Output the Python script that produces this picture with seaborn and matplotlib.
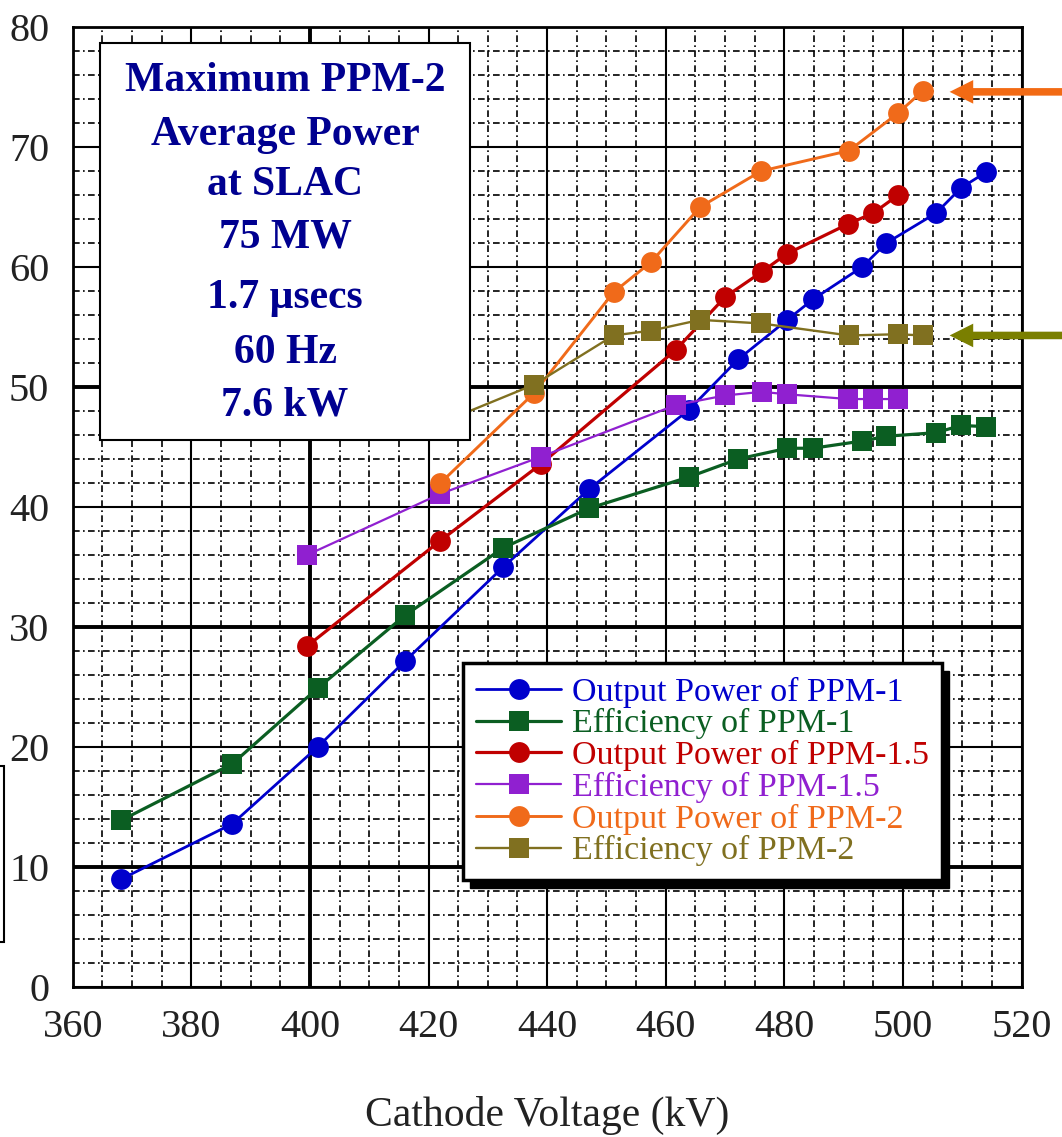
import numpy as np
import pandas as pd
import matplotlib
matplotlib.use('Agg')
import matplotlib.pyplot as plt
import seaborn as sns
from matplotlib.patches import Rectangle

# values (cathode voltage in kV, power in MW / efficiency in %)
volt_ppm1 = [368.2, 386.9, 401.3, 416.1, 432.6, 447.1, 463.9, 472.2, 480.5, 484.8, 493.1, 497.2, 505.6, 509.8, 514.0]
power_ppm1 = [9.0, 13.6, 20.0, 27.2, 35.0, 41.5, 48.1, 52.3, 55.6, 57.3, 60.0, 62.0, 64.5, 66.6, 67.9]
eff_ppm1 = [13.9, 18.6, 24.9, 31.0, 36.6, 39.9, 42.5, 44.0, 44.9, 44.9, 45.5, 45.9, 46.2, 46.8, 46.7]

volt_ppm15 = [399.5, 422.0, 439.0, 461.7, 470.0, 476.2, 480.4, 490.8, 495.0, 499.2]
power_ppm15 = [28.4, 37.2, 43.6, 53.1, 57.5, 59.6, 61.1, 63.6, 64.5, 66.0]
eff_ppm15 = [36.0, 41.1, 44.2, 48.5, 49.3, 49.6, 49.4, 49.0, 49.0, 49.0]

volt_ppm2 = [422.0, 437.8, 451.2, 457.5, 465.8, 476.1, 490.9, 499.1, 503.4]
power_ppm2 = [42.0, 49.5, 57.9, 60.4, 65.0, 68.0, 69.7, 72.8, 74.7]
eff_ppm2 = [47.0, 50.2, 54.3, 54.7, 55.6, 55.3, 54.3, 54.4, 54.3]

labels = ['Output Power of PPM-1', 'Efficiency of PPM-1', 'Output Power of PPM-1.5',
          'Efficiency of PPM-1.5', 'Output Power of PPM-2', 'Efficiency of PPM-2']
colors = ['#0000cc', '#0b5e22', '#c00000', '#9020d0', '#f06a1a', '#807020']
box_lines = ['Maximum PPM-2', 'Average Power', 'at SLAC', '75 MW', '1.7 \u00b5secs', '60 Hz', '7.6 kW']

sns.set_style('white')
plt.rcParams['font.family'] = ['Liberation Serif', 'DejaVu Serif']

fig = plt.figure(figsize=(10.62, 11.37), dpi=100)
ax = fig.add_axes([0.0685, 0.1319, 0.8934, 0.8443])

series = [(volt_ppm1, power_ppm1, 'o', 2.0),
          (volt_ppm1, eff_ppm1, 's', 2.3),
          (volt_ppm15, power_ppm15, 'o', 2.3),
          (volt_ppm15, eff_ppm15, 's', 1.6),
          (volt_ppm2, power_ppm2, 'o', 2.1),
          (volt_ppm2, eff_ppm2, 's', 1.7)]

for (xs, ys, mk, lw), lab, c in zip(series, labels, colors):
    ms = 15 if mk == 'o' else 14
    sns.lineplot(x=xs, y=ys, ax=ax, color=c, marker=mk, markersize=ms,
                 markeredgewidth=0, lw=lw, label=lab, sort=False)

ax.set_xlim(360, 520)
ax.set_ylim(0, 80)
ax.set_xticks(np.arange(360, 521, 20))
ax.set_xticks(np.arange(360, 521, 5), minor=True)
ax.set_yticks(np.arange(0, 81, 10))
ax.set_yticks(np.arange(0, 81, 2), minor=True)
ax.set_axisbelow(True)
ax.grid(which='major', color='k', lw=1.5, ls='-')
ax.grid(which='minor', color='k', lw=1.2, ls=(0, (4, 2, 1, 2)))
for v in [400]:
    ax.axvline(v, color='k', lw=2.8, zorder=0.5)
for v in [10, 30, 50]:
    ax.axhline(v, color='k', lw=2.8, zorder=0.5)
for sp in ax.spines.values():
    sp.set_color('k')
    sp.set_linewidth(2)

ax.tick_params(which='both', length=0)
ax.tick_params(axis='y', labelsize=29, pad=17, labelcolor='#222222')
ax.tick_params(axis='x', labelsize=29, pad=16, labelcolor='#222222')
ax.set_xlabel('Cathode Voltage (kV)', fontsize=30, labelpad=36, color='#222222')
ax.set_ylabel('')

# info box
ax.add_patch(Rectangle((364.6, 45.6), 62.4, 33.1, facecolor='white', edgecolor='k',
                       lw=1.5, zorder=6))
for txt, yy in zip(box_lines, [75.5, 71.0, 66.8, 62.5, 57.4, 52.8, 48.5]):
    ax.text(395.8, yy, txt, ha='center', va='center', fontsize=30, fontweight='bold',
            color='#000090', zorder=7)

# arrows on the right
ax.annotate('', xy=(507.4, 74.6), xytext=(535, 74.6), annotation_clip=False,
            arrowprops=dict(arrowstyle='simple,head_length=1.0,head_width=1.0,tail_width=0.32',
                            mutation_scale=17, color='#f26a14', lw=0))
ax.annotate('', xy=(507.4, 54.3), xytext=(535, 54.3), annotation_clip=False,
            arrowprops=dict(arrowstyle='simple,head_length=1.0,head_width=1.0,tail_width=0.32',
                            mutation_scale=17, color='#7a7f00', lw=0))

leg = ax.legend(loc='upper left', bbox_to_anchor=(0.411, 0.3375), borderaxespad=0,
                fontsize=24.5, handlelength=2.5, handletextpad=0.3, labelspacing=0.02,
                borderpad=0.4, fancybox=False, framealpha=1, edgecolor='k')
leg.get_frame().set_linewidth(2.5)
for t, c in zip(leg.get_texts(), colors):
    t.set_color(c)

# shadow behind the legend
fig.canvas.draw()
bb = leg.get_window_extent()
(x0, y0), (x1, y1) = ax.transAxes.inverted().transform([[bb.x0 + 7, bb.y0 - 8], [bb.x1 + 7, bb.y1 - 8]])
ax.add_patch(Rectangle((x0, y0), x1 - x0, y1 - y0, transform=ax.transAxes, color='k',
                       clip_on=False, zorder=4.9))

# cropped frame at the left edge
fig.patches.append(Rectangle((-0.01, 0.1715), 0.0133, 0.1548, transform=fig.transFigure,
                             fill=False, ec='k', lw=1.5))

fig.savefig('out.png', dpi=100)
